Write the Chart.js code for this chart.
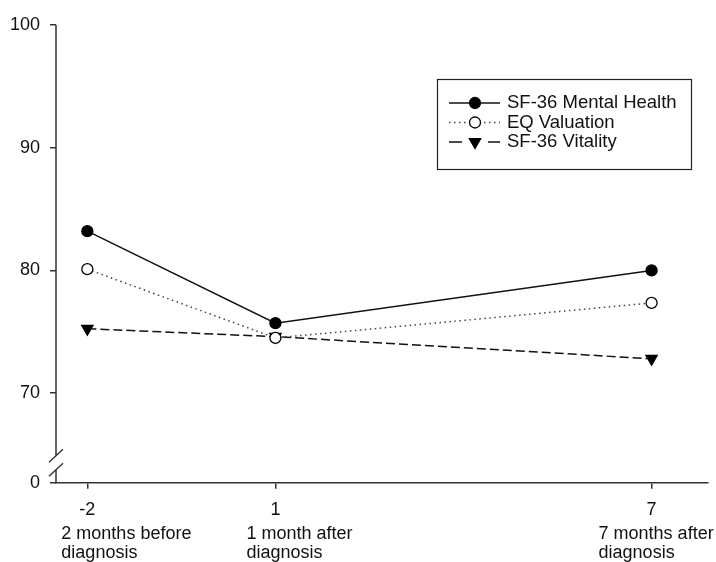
<!DOCTYPE html>
<html>
<head>
<meta charset="utf-8">
<script src="https://cdn.jsdelivr.net/npm/chart.js@4/dist/chart.umd.min.js"></script>
<style>
  html, body { margin: 0; padding: 0; background: #fff; }
  #wrap { width: 716px; height: 562px; }
</style>
</head>
<body>
<div id="wrap"><canvas id="c" width="716" height="562"></canvas></div>
<script>
// Time points (months relative to diagnosis) and their captions
const months = [-2, 1, 7];
const monthCaptions = [
  ['2 months before', 'diagnosis'],
  ['1 month after', 'diagnosis'],
  ['7 months after', 'diagnosis']
];

// Mean scores per time point
const mentalHealth = [83.2, 75.7, 80.0];
const eqValuation  = [80.1, 74.5, 77.35];
const vitality     = [75.25, 74.6, 72.8];

const seriesNames = ['SF-36 Mental Health', 'EQ Valuation', 'SF-36 Vitality'];

// Y axis is truncated: everything below 70 is collapsed, the bottom is labelled 0
const yTicks = [70, 80, 90, 100];
const yFloor = 62.7;
const yFloorLabel = '0';

const FONT = '"Liberation Sans", Arial, sans-serif';
const INK = '#111';
const AXIS = '#333';

const toPoints = vals => months.map((m, i) => ({ x: m, y: vals[i] }));

const styles = [
  { dash: [], color: '#111', fill: '#000', shape: 'circle', r: 5.5, rot: 0 },
  { dash: [1.5, 3.5], color: '#444', fill: '#fff', shape: 'circle', r: 5.5, rot: 0 },
  { dash: [9, 4], color: '#111', fill: '#000', shape: 'triangle', r: 6.5, rot: 180 }
];

const seriesValues = [mentalHealth, eqValuation, vitality];

const datasets = seriesValues.map((vals, i) => ({
  label: seriesNames[i],
  data: toPoints(vals),
  borderColor: styles[i].color,
  borderWidth: 1.5,
  borderDash: styles[i].dash,
  tension: 0,
  fill: false,
  pointStyle: styles[i].shape,
  pointRadius: styles[i].r,
  pointRotation: styles[i].rot,
  pointBackgroundColor: styles[i].fill,
  pointBorderColor: '#000',
  pointBorderWidth: 1.3
}));

// Y axis line with a break mark between the floor and the first real tick
const brokenAxis = {
  id: 'brokenAxis',
  afterDraw(chart) {
    const ctx = chart.ctx;
    const y = chart.scales.y;
    const x0 = chart.chartArea.left;
    const top = y.getPixelForValue(100);
    const bottom = y.bottom;
    const b1 = bottom - 27;   // upper slash centre
    const b2 = bottom - 13;   // lower slash centre
    ctx.save();
    ctx.strokeStyle = AXIS;
    ctx.lineWidth = 1.5;
    ctx.beginPath();
    ctx.moveTo(x0, top);
    ctx.lineTo(x0, b1);
    ctx.moveTo(x0, b2);
    ctx.lineTo(x0, bottom);
    ctx.stroke();
    ctx.lineWidth = 1.4;
    ctx.beginPath();
    [b1, b2].forEach(c => {
      ctx.moveTo(x0 - 7, c + 6.5);
      ctx.lineTo(x0 + 7, c - 6.5);
    });
    ctx.stroke();
    ctx.restore();
  }
};

// Two-line captions under the x tick labels
const captions = {
  id: 'captions',
  afterDraw(chart) {
    const ctx = chart.ctx;
    const xs = chart.scales.x;
    const offsets = [-26, -29, -53];
    ctx.save();
    ctx.fillStyle = INK;
    ctx.font = '18px ' + FONT;
    ctx.textAlign = 'left';
    ctx.textBaseline = 'alphabetic';
    months.forEach((m, i) => {
      const px = xs.getPixelForValue(m) + offsets[i];
      monthCaptions[i].forEach((line, j) => {
        ctx.fillText(line, px, 539 + j * 19);
      });
    });
    ctx.restore();
  }
};

// Boxed legend with line samples
const boxLegend = {
  id: 'boxLegend',
  afterDraw(chart) {
    const ctx = chart.ctx;
    const left = 437, top = 79, w = 254, h = 90;
    ctx.save();
    ctx.strokeStyle = '#222';
    ctx.lineWidth = 1.2;
    ctx.strokeRect(left + 0.5, top + 0.5, w, h);
    ctx.font = '18.5px ' + FONT;
    ctx.textBaseline = 'middle';
    ctx.fillStyle = INK;
    chart.data.datasets.forEach((ds, i) => {
      const yy = 103 + i * 19.5;
      const st = styles[i];
      ctx.save();
      ctx.strokeStyle = st.color;
      ctx.lineWidth = 1.5;
      if (i === 2) {
        ctx.beginPath();
        ctx.moveTo(449, yy); ctx.lineTo(462, yy);
        ctx.moveTo(488, yy); ctx.lineTo(500, yy);
        ctx.stroke();
      } else {
        ctx.setLineDash(st.dash);
        ctx.beginPath();
        ctx.moveTo(449, yy); ctx.lineTo(500, yy);
        ctx.stroke();
      }
      ctx.restore();
      ctx.save();
      ctx.fillStyle = st.fill;
      ctx.strokeStyle = '#000';
      ctx.lineWidth = 1.3;
      ctx.beginPath();
      if (st.shape === 'circle') {
        ctx.arc(475, yy, st.r, 0, Math.PI * 2);
      } else {
        const r = st.r;
        ctx.moveTo(475 - r * 0.866, yy - r * 0.5);
        ctx.lineTo(475 + r * 0.866, yy - r * 0.5);
        ctx.lineTo(475, yy + r);
        ctx.closePath();
      }
      ctx.fill();
      ctx.stroke();
      ctx.restore();
      ctx.fillStyle = INK;
      ctx.fillText(ds.label, 507, yy);
    });
    ctx.restore();
  }
};

new Chart(document.getElementById('c'), {
  type: 'line',
  data: { datasets },
  options: {
    responsive: false,
    animation: false,
    devicePixelRatio: 1,
    layout: { padding: { top: 25, right: 8, left: 0, bottom: 0 } },
    plugins: {
      legend: { display: false },
      tooltip: { enabled: false }
    },
    scales: {
      x: {
        type: 'linear',
        min: -2.5,
        max: 7.9,
        afterBuildTicks: s => { s.ticks = months.map(v => ({ value: v })); },
        afterFit: s => { s.height = 79.3; },
        grid: { drawOnChartArea: false, drawTicks: true, tickLength: 6, color: AXIS, lineWidth: 1.5 },
        border: { display: true, color: AXIS, width: 1.5 },
        ticks: {
          color: INK,
          font: { family: FONT, size: 18 },
          padding: 11,
          maxRotation: 0,
          callback: v => String(v)
        }
      },
      y: {
        type: 'linear',
        min: yFloor,
        max: 100,
        afterBuildTicks: s => { s.ticks = [yFloor, ...yTicks].map(v => ({ value: v })); },
        afterFit: s => { s.width = 56; },
        grid: { drawOnChartArea: false, drawTicks: true, tickLength: 6, color: AXIS, lineWidth: 1.5 },
        border: { display: false },
        ticks: {
          color: INK,
          font: { family: FONT, size: 18 },
          padding: 10,
          callback: v => (v === yFloor ? yFloorLabel : String(v))
        }
      }
    }
  },
  plugins: [brokenAxis, captions, boxLegend]
});
</script>
</body>
</html>
